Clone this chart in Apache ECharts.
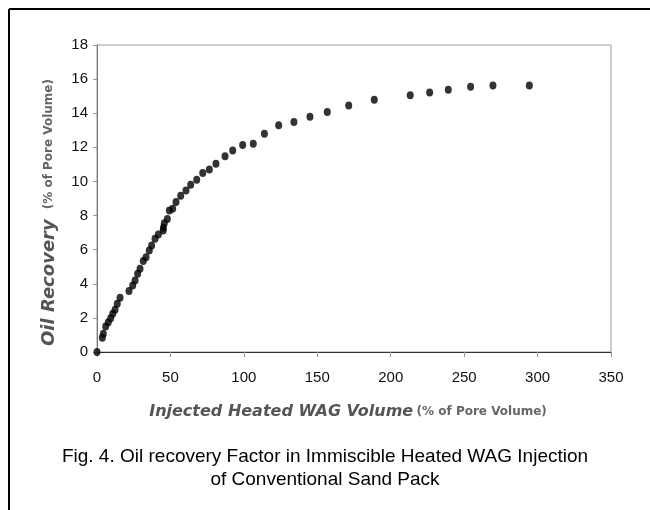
<!DOCTYPE html>
<html>
<head>
<meta charset="utf-8">
<script src="https://cdn.jsdelivr.net/npm/echarts@6/dist/echarts.min.js"></script>
<style>html,body{margin:0;padding:0;background:#fff;}#c{width:650px;height:510px;}</style>
</head>
<body>
<div id="c"></div>
<script>
var injectedVolume = [0, 3.6, 4.3, 5.9, 7.7, 9.3, 10.7, 12.3, 13.8, 15.7, 21.8, 24.3, 25.9, 27.7, 29.3, 31.5, 33.4, 35.6, 37.2, 39.5, 41.8, 45.1, 45.2, 45.8, 47.9, 49.3, 51.5, 53.8, 57, 60.6, 63.8, 67.9, 72, 76.5, 81, 87.2, 92.4, 99.2, 106.4, 114, 123.7, 134.1, 145, 156.8, 171.4, 188.8, 213.3, 226.5, 239.2, 254.4, 269.6, 294.4];
var oilRecovery = [0, 0.83, 1.07, 1.5, 1.75, 1.98, 2.24, 2.47, 2.83, 3.18, 3.57, 3.9, 4.19, 4.59, 4.88, 5.33, 5.56, 5.95, 6.25, 6.64, 6.89, 7.13, 7.28, 7.55, 7.8, 8.3, 8.4, 8.79, 9.16, 9.47, 9.8, 10.1, 10.5, 10.7, 11.04, 11.47, 11.82, 12.13, 12.21, 12.8, 13.3, 13.48, 13.79, 14.07, 14.46, 14.79, 15.06, 15.22, 15.38, 15.55, 15.63, 15.63];
var xTitle = 'Injected Heated WAG Volume';
var xUnit = '(% of Pore Volume)';
var yTitle = 'Oil Recovery';
var yUnit = '(% of Pore Volume)';
var caption = ['Fig. 4. Oil recovery Factor in Immiscible Heated WAG Injection', 'of Conventional Sand Pack'];

var pts = injectedVolume.map(function (x, i) { return [x, oilRecovery[i]]; });
var labelFont = '"Liberation Sans", Arial, sans-serif';
var chart = echarts.init(document.getElementById('c'));
chart.setOption({
  backgroundColor: '#fff',
  animation: false,
  grid: { left: 97, right: 39, top: 45, bottom: 158, show: true, borderColor: '#9a9a9a', borderWidth: 1 },
  xAxis: {
    type: 'value', min: 0, max: 350, interval: 50,
    axisLine: { show: true, lineStyle: { color: '#333', width: 1 } },
    axisTick: { show: true, inside: false, length: 5, lineStyle: { color: '#999' } },
    splitLine: { show: false },
    axisLabel: { color: '#111', fontFamily: labelFont, fontSize: 15, margin: 18 },
    name: '{a|' + xTitle + '} {b|' + xUnit + '}',
    nameLocation: 'middle', nameGap: 52,
    nameTextStyle: {
      padding: [0, 12, 0, 0],
      rich: {
        a: { fontFamily: '"DejaVu Sans", sans-serif', fontWeight: 'bold', fontStyle: 'italic', fontSize: 16, color: '#555' },
        b: { fontFamily: '"DejaVu Sans", sans-serif', fontWeight: 'bold', fontSize: 12, color: '#666' }
      }
    }
  },
  yAxis: {
    type: 'value', min: 0, max: 18, interval: 2,
    axisLine: { show: true, lineStyle: { color: '#777', width: 1 } },
    axisTick: { show: true, inside: false, length: 4, lineStyle: { color: '#999' } },
    splitLine: { show: false },
    axisLabel: { color: '#111', fontFamily: labelFont, fontSize: 15, margin: 9 },
    name: '{a|' + yTitle + '}   {b|' + yUnit + '}',
    nameLocation: 'middle', nameGap: 39, nameRotate: 90,
    nameTextStyle: {
      padding: [0, 28, 0, 0],
      rich: {
        a: { fontFamily: '"DejaVu Sans", sans-serif', fontWeight: 'bold', fontStyle: 'italic', fontSize: 18, color: '#555' },
        b: { fontFamily: '"DejaVu Sans", sans-serif', fontWeight: 'bold', fontSize: 12, color: '#666' }
      }
    }
  },
  series: [{
    type: 'scatter', data: pts, symbol: 'circle', symbolSize: [7, 8],
    itemStyle: { color: '#000' }
  }],
  graphic: [
    { type: 'line', shape: { x1: 9, y1: 9, x2: 650, y2: 9 }, style: { stroke: '#000', lineWidth: 2 } },
    { type: 'line', shape: { x1: 9, y1: 9, x2: 9, y2: 510 }, style: { stroke: '#000', lineWidth: 2 } },
    { type: 'text', left: 'center', top: 445, style: { text: caption.join('\n'), textAlign: 'center', font: '19px "Liberation Sans", Arial, sans-serif', fill: '#000', lineHeight: 23 } }
  ]
});
</script>
</body>
</html>
